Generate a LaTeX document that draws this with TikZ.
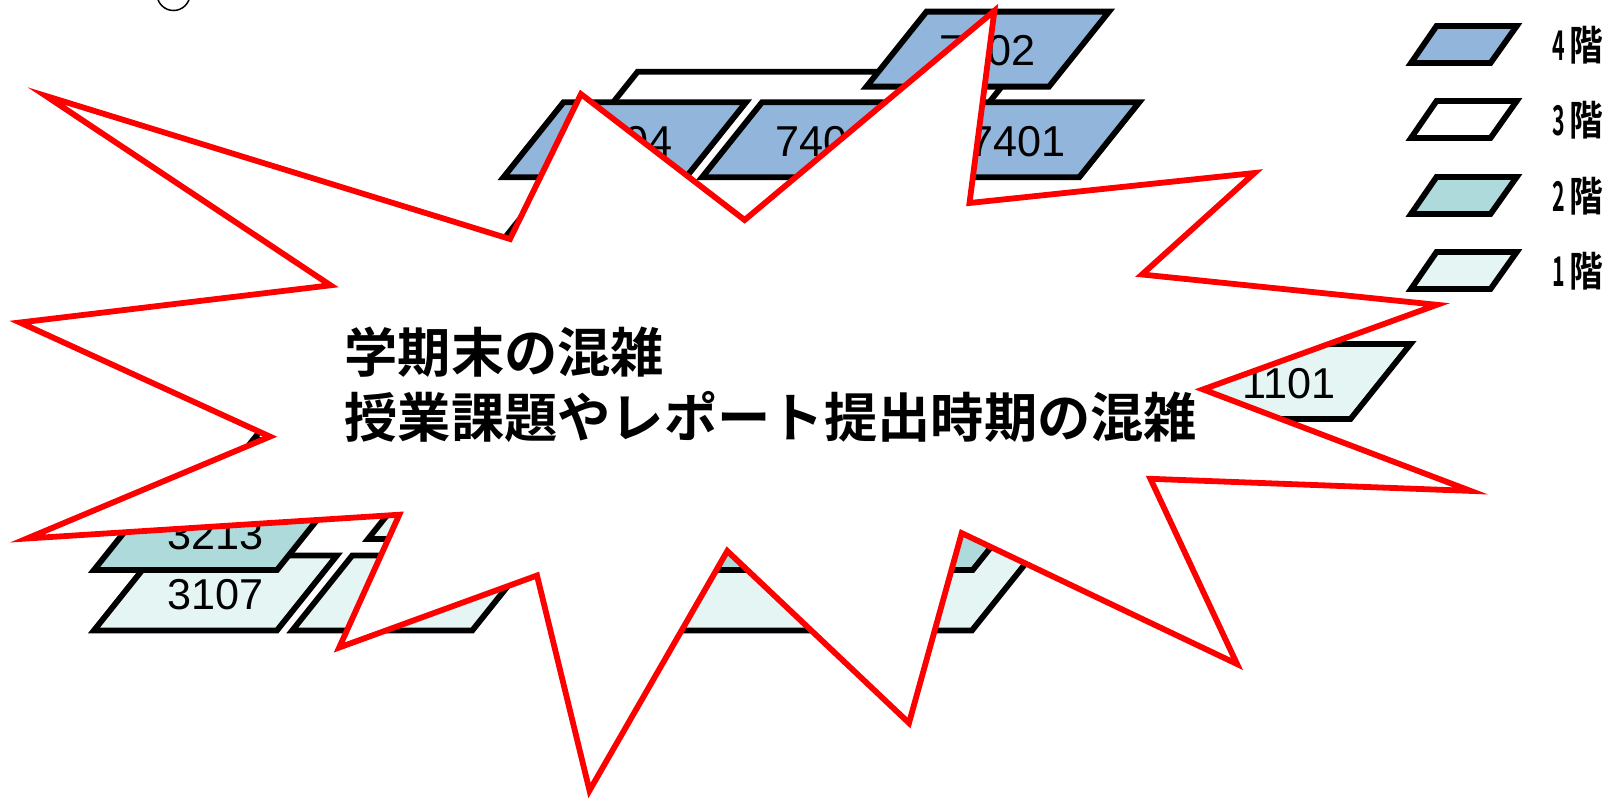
\documentclass[tikz,border=0pt]{standalone}
\usepackage{fontspec}
\setmainfont{Liberation Sans}
\newfontfamily\titlefont{Noto Sans CJK JP Bold}
\newfontfamily\kaifont[FakeStretch=0.82]{Noto Sans CJK JP Bold}
\newfontfamily\kainum[FakeStretch=0.52]{Noto Sans CJK JP Bold}
\definecolor{floorfour}{HTML}{92B6DB}
\definecolor{floortwo}{HTML}{AEDADC}
\definecolor{floorone}{HTML}{E5F5F3}
\tikzset{
  roomline/.style={draw=black,line width=2.9pt},
  roomtext/.style={font=\fontsize{21.6}{24}\selectfont,inner sep=0pt},
  burstline/.style={draw=red,fill=white,line width=2.9pt},
  keytext/.style={anchor=west,inner sep=0pt}
}
% style, left x, bottom y, width, height, name, text
\newcommand{\room}[7]{
  \draw[roomline,fill=#1] (#2,#3) -- (#2+#4,#3) -- (#2+#4+0.8*#5,#3-#5) -- (#2+0.8*#5,#3-#5) -- cycle;
  \node[roomtext] (#6) at (#2+#4/2+0.4*#5,#3-#5/2+2) {#7};
}
% style, top y, name, digit
\newcommand{\floorkey}[4]{
  \draw[roomline,fill=#1] (1411,#2+37) -- (1490.5,#2+37) -- (1516.7,#2) -- (1436.5,#2) -- cycle;
  \node[keytext] (#3) at (1552,#2+19) {\fontsize{20.5}{22}\selectfont{\kainum #4}\hspace{2pt}{\kaifont 階}};
}
\begin{document}
\begin{tikzpicture}[x=0.5pt,y=-0.5pt]
  \useasboundingbox (0,0) rectangle (1620,798);
  \node[draw,circle,line width=0.75pt,minimum size=16.5pt,inner sep=0pt] (dot) at (173.5,-6) {};
  % 3rd floor behind
  \room{white}{495}{250}{376}{178.3}{r3f}{}
  \room{white}{253}{440}{182}{75}{r3w}{}
  % 4th floor
  \room{floorfour}{866.5}{86.6}{182.5}{75}{r7402}{7402}
  \room{floorfour}{503.5}{177.3}{182.5}{75}{r7404}{7404}
  \room{floorfour}{702}{177.3}{182.5}{75}{r7403}{7403}
  \room{floorfour}{896.7}{177.3}{182.5}{75}{r7401}{7401}
  % 1st and 2nd floor
  \room{floorone}{1168}{419}{182.5}{75}{r1101}{1101}
  \room{floorone}{94}{630.4}{183}{75}{r3107}{3107}
  \room{floortwo}{94}{570}{183}{75}{r3213}{3213}
  \room{floorone}{292.3}{630.4}{180}{75}{r1a}{}
  \room{floorone}{368}{539}{182}{75}{r1b}{}
  \room{floorone}{640}{630.4}{332}{100}{r1c}{}
  \room{floortwo}{640}{570}{332.7}{100}{r2c}{}
  % burst
  \draw[burstline] (46,96) -- (330.5,285.3) -- (20,322.5) -- (270,436.6) -- (27,538.5)
    -- (399.3,514.7) -- (339.2,647.5) -- (537,575.5) -- (589.5,790.5) -- (727.3,551)
    -- (909,723) -- (961.7,533.1) -- (1237,664) -- (1150.4,478.8) -- (1470.6,490.9)
    -- (1203,389.4) -- (1436.9,304.8) -- (1142,274.5) -- (1254.5,173) -- (969.5,203)
    -- (994.4,10.8) -- (744.6,220) -- (581,94.1) -- (510,239) -- cycle;
  \node[anchor=west,align=left,inner sep=0pt,font=\titlefont\fontsize{26.65}{32.5}\selectfont] (title) at (344,385)
    {学期末の混雑\\授業課題やレポート提出時期の混雑};
  % legend
  \floorkey{floorfour}{26}{key4}{4}
  \floorkey{white}{101}{key3}{3}
  \floorkey{floortwo}{177}{key2}{2}
  \floorkey{floorone}{252}{key1}{1}
\end{tikzpicture}
\end{document}
